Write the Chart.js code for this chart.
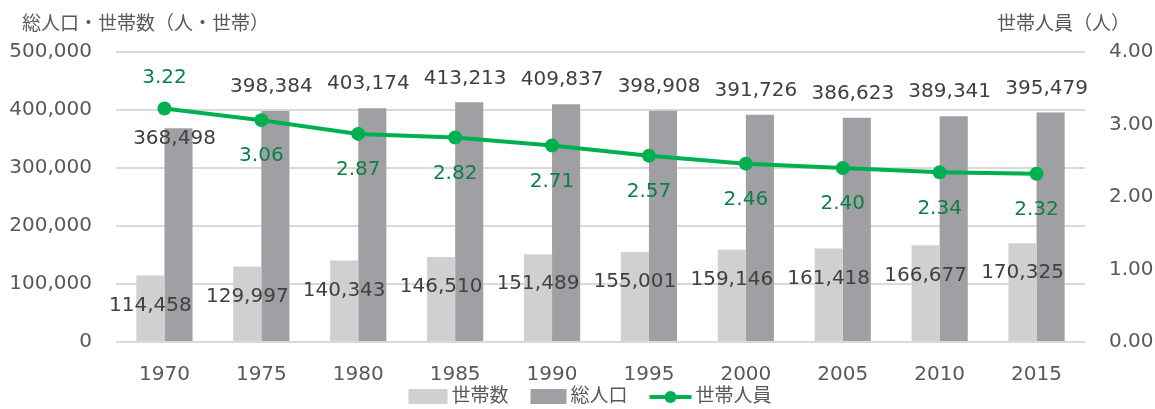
<!DOCTYPE html>
<html lang="ja">
<head>
<meta charset="utf-8">
<script src="https://cdn.jsdelivr.net/npm/chart.js@4"></script>
<style>
  html, body { margin: 0; padding: 0; background: #fff; }
  #wrap { width: 1155px; height: 409px; }
</style>
</head>
<body>
<div id="wrap"><canvas id="chart"></canvas></div>
<script>
const years = ['1970', '1975', '1980', '1985', '1990', '1995', '2000', '2005', '2010', '2015'];
const households = [114458, 129997, 140343, 146510, 151489, 155001, 159146, 161418, 166677, 170325];
const population = [368498, 398384, 403174, 413213, 409837, 398908, 391726, 386623, 389341, 395479];
const perHousehold = [3.22, 3.06, 2.87, 2.82, 2.71, 2.57, 2.46, 2.40, 2.34, 2.32];
const leftTitle = '総人口・世帯数（人・世帯）';
const rightTitle = '世帯人員（人）';

const FONT = "'DejaVu Sans', 'Noto Sans CJK JP', sans-serif";
const GRAY = '#595959';
const LIGHT = '#d0d0d0';
const DARK = '#a0a0a4';
const GREEN = '#00b050';
const GREEN_TEXT = '#0d7f45';

// ラベル・タイトル・凡例を描く
const decorations = {
  id: 'decorations',
  afterDatasetsDraw(chart) {
    const ctx = chart.ctx;
    const light = chart.getDatasetMeta(0).data;
    const dark = chart.getDatasetMeta(1).data;
    const pts = chart.getDatasetMeta(2).data;
    ctx.save();
    ctx.textAlign = 'center';
    ctx.textBaseline = 'middle';
    ctx.font = '20px ' + FONT;

    // 世帯人員のラベル
    const lineAbove = [];
    pts.forEach((p, i) => {
      const above = p.y < dark[i].y;
      lineAbove.push(above);
      ctx.fillStyle = GREEN_TEXT;
      ctx.fillText(perHousehold[i].toFixed(2), p.x, above ? p.y - 31 : p.y + 36);
    });

    ctx.fillStyle = '#404040';
    light.forEach((b, i) => {
      ctx.fillText(households[i].toLocaleString('en-US'), b.x, b.y + 30);
    });
    dark.forEach((b, i) => {
      const y = lineAbove[i] ? b.y + 11 : b.y - 24;
      ctx.fillText(population[i].toLocaleString('en-US'), b.x - 4, y);
    });

    // 軸タイトル
    ctx.font = '19px ' + FONT;
    ctx.fillStyle = GRAY;
    ctx.textAlign = 'left';
    ctx.fillText(leftTitle, 22, 25);
    ctx.textAlign = 'right';
    ctx.fillText(rightTitle, 1130, 25);

    // 凡例
    const items = chart.data.datasets.map(d => d.label);
    const y = 397;
    const widths = items.map(t => ctx.measureText(t).width);
    const keyW = [39, 36, 42];
    let total = 0;
    items.forEach((t, i) => { total += keyW[i] + 4 + widths[i] + (i < items.length - 1 ? 22 : 0); });
    let x = 590 - total / 2;
    ctx.textAlign = 'left';
    items.forEach((t, i) => {
      if (i < 2) {
        ctx.fillStyle = i === 0 ? LIGHT : DARK;
        ctx.fillRect(x, y - 8, keyW[i], 15);
      } else {
        ctx.strokeStyle = GREEN;
        ctx.lineWidth = 4;
        ctx.beginPath();
        ctx.moveTo(x, y);
        ctx.lineTo(x + keyW[i], y);
        ctx.stroke();
        ctx.fillStyle = GREEN;
        ctx.beginPath();
        ctx.arc(x + keyW[i] / 2, y, 6, 0, Math.PI * 2);
        ctx.fill();
      }
      x += keyW[i] + 4;
      ctx.fillStyle = GRAY;
      ctx.fillText(t, x, y);
      x += widths[i] + 22;
    });
    ctx.restore();
  }
};

new Chart(document.getElementById('chart'), {
  data: {
    labels: years,
    datasets: [
      {
        type: 'bar',
        label: '世帯数',
        data: households,
        backgroundColor: LIGHT,
        yAxisID: 'y',
        order: 2,
        categoryPercentage: 0.58,
        barPercentage: 1,
      },
      {
        type: 'bar',
        label: '総人口',
        data: population,
        backgroundColor: DARK,
        yAxisID: 'y',
        order: 2,
        categoryPercentage: 0.58,
        barPercentage: 1,
      },
      {
        type: 'line',
        label: '世帯人員',
        data: perHousehold,
        borderColor: GREEN,
        backgroundColor: GREEN,
        borderWidth: 4,
        pointRadius: 7,
        pointBackgroundColor: GREEN,
        pointBorderWidth: 0,
        yAxisID: 'y1',
        order: 1,
        tension: 0,
      },
    ],
  },
  options: {
    responsive: true,
    maintainAspectRatio: false,
    animation: false,
    layout: { padding: { top: 52, bottom: 22, left: 0, right: 0 } },
    plugins: {
      legend: { display: false },
      tooltip: { enabled: false },
    },
    scales: {
      x: {
        grid: { display: false, drawTicks: false },
        border: { display: false },
        ticks: { color: GRAY, font: { family: FONT, size: 20 }, padding: 21 },
        afterFit: (s) => { s.height = 45; },
      },
      y: {
        position: 'left',
        min: 0,
        max: 500000,
        grid: { color: '#d9d9d9', lineWidth: 2, drawTicks: false },
        border: { display: false },
        ticks: {
          stepSize: 100000,
          color: GRAY,
          padding: 24,
          font: { family: FONT, size: 20 },
          callback: (v) => v.toLocaleString('en-US'),
        },
        afterFit: (s) => { s.width = 116; },
      },
      y1: {
        position: 'right',
        min: 0,
        max: 4,
        grid: { display: false, drawTicks: false },
        border: { display: false },
        ticks: {
          stepSize: 1,
          color: GRAY,
          padding: 24,
          font: { family: FONT, size: 20 },
          callback: (v) => v.toFixed(2),
        },
        afterFit: (s) => { s.width = 70; },
      },
    },
  },
  plugins: [decorations],
});
</script>
</body>
</html>
